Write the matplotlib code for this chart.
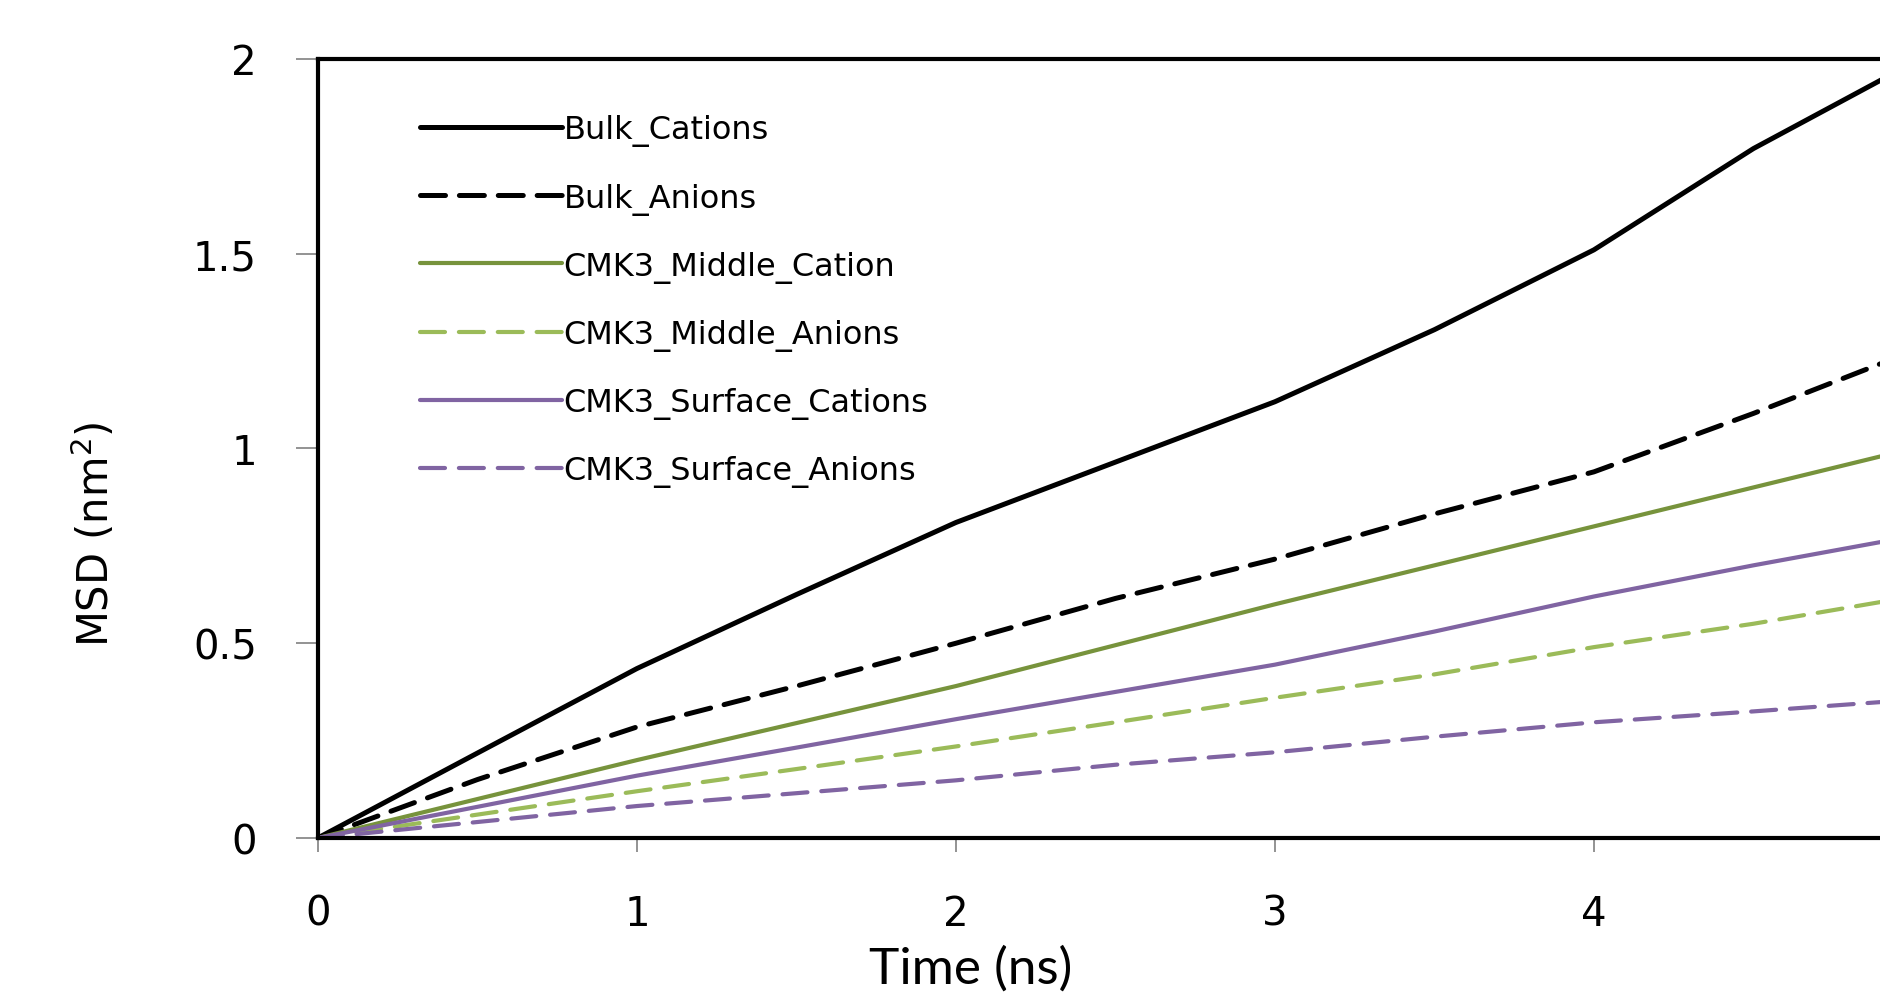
import matplotlib
matplotlib.use('Agg')
import matplotlib.pyplot as plt
from matplotlib import font_manager

# time (ns) and MSD (nm^2)
time_ns = [0, 0.5, 1, 1.5, 2, 2.5, 3, 3.5, 4, 4.5, 5]
bulk_cations = [0, 0.218, 0.435, 0.625, 0.81, 0.965, 1.12, 1.305, 1.51, 1.77, 1.99]
bulk_anions = [0, 0.15, 0.285, 0.39, 0.50, 0.615, 0.716, 0.832, 0.94, 1.09, 1.25]
middle_cation = [0, 0.10, 0.20, 0.295, 0.39, 0.495, 0.60, 0.70, 0.80, 0.90, 1.00]
middle_anions = [0, 0.06, 0.12, 0.177, 0.235, 0.297, 0.36, 0.42, 0.49, 0.55, 0.62]
surface_cations = [0, 0.08, 0.16, 0.232, 0.305, 0.375, 0.445, 0.53, 0.62, 0.70, 0.775]
surface_anions = [0, 0.041, 0.082, 0.115, 0.148, 0.188, 0.22, 0.26, 0.297, 0.325, 0.355]

labels = ['Bulk_Cations', 'Bulk_Anions', 'CMK3_Middle_Cation',
          'CMK3_Middle_Anions', 'CMK3_Surface_Cations', 'CMK3_Surface_Anions']
xticks = [0, 1, 2, 3, 4]
yticks = [0, 0.5, 1, 1.5, 2]
ytick_labels = ['0', '0.5', '1', '1.5', '2']

names = set(f.name for f in font_manager.fontManager.ttflist)
narrow = 'Liberation Sans Narrow' if 'Liberation Sans Narrow' in names else 'DejaVu Sans'

plt.rcParams['lines.scale_dashes'] = False

fig = plt.figure(figsize=(18.8, 9.95), dpi=100)
ax = fig.add_axes([0.1691, 0.1568, 0.8484, 0.7829])

series = [bulk_cations, bulk_anions, middle_cation, middle_anions, surface_cations, surface_anions]
colors = ['black', 'black', '#77933C', '#9BBB59', '#8064A2', '#8064A2']
widths = [3.6, 3.6, 3.0, 3.0, 3.0, 3.0]
dashed = [False, True, False, True, False, True]

for y, lab, c, w, d in zip(series, labels, colors, widths, dashed):
    line, = ax.plot(time_ns, y, color=c, lw=w, label=lab, solid_capstyle='round')
    if d:
        line.set_dashes((18, 10))
        line.set_dash_capstyle('round')

ax.set_xlim(0, 5)
ax.set_ylim(0, 2)
ax.set_xticks(xticks)
ax.set_yticks(yticks)
ax.set_yticklabels(ytick_labels)

for s in ax.spines.values():
    s.set_linewidth(3.0)
    s.set_color('black')

ax.tick_params(axis='y', direction='out', length=16, width=1.2, color='#808080',
               pad=28, labelsize=29)
ax.tick_params(axis='x', direction='out', length=10, width=1.2, color='#808080',
               pad=30, labelsize=29)

fig.text(0.05, 0.463, 'MSD (nm$^2$)', rotation=90, ha='center', va='center',
         fontsize=30, family=narrow)
fig.text(0.5165, 0.011, 'Time (ns)', ha='center', va='baseline', fontsize=37, family='Lato')

ax.legend(loc='upper left', bbox_to_anchor=(0.2234, 0.884), bbox_transform=fig.transFigure,
          frameon=False, fontsize=23, handlelength=4.45, handletextpad=0.05,
          labelspacing=1.13, borderpad=0, borderaxespad=0)

fig.savefig('out.png', dpi=100)
